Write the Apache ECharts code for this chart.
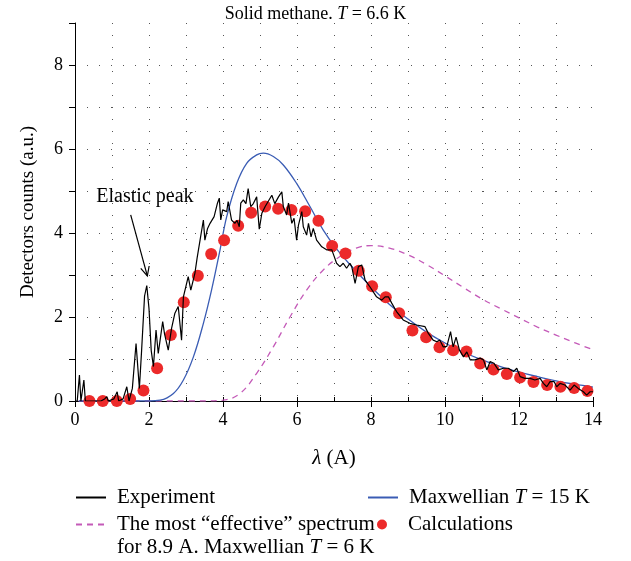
<!DOCTYPE html>
<html><head><meta charset="utf-8">
<script src="https://cdn.jsdelivr.net/npm/echarts@6/dist/echarts.min.js"></script>
<style>html,body{margin:0;padding:0;background:#fff}#c{width:631px;height:561px}</style>
</head><body><div id="c"></div>
<script>
const FONT = '"Liberation Serif", "Times New Roman", serif';
const titleText = 'Solid methane. {i|T} = 6.6 K';
const xName = '{i|λ} (A)';
const yName = 'Detectors counts (a.u.)';
const seriesNames = ['Experiment', 'The most “effective” spectrum', 'Maxwellian T = 15 K', 'Calculations'];
const legendSecondLine = 'for 8.9 A. Maxwellian {i|T} = 6 K';
const annotationText = 'Elastic peak';
const annotationTextAt = [1.89, 4.86];
const annotationArrow = [[1.505, 4.43], [1.955, 2.98]];

const experiment = [[0,0],[0.06,0],[0.12,0.62],[0.16,0],[0.24,0.5],[0.28,0],[0.5,0],[0.7,0],[0.8,0.05],[0.86,0.1],[0.9,0],[1.05,0.05],[1.14,0.22],[1.18,0],[1.3,0.05],[1.40,0.34],[1.46,0],[1.55,0.3],[1.65,1.37],[1.74,0.3],[1.8,1.2],[1.88,2.5],[1.94,2.75],[2.0,2.2],[2.06,1.2],[2.12,0.82],[2.19,1.69],[2.25,1.13],[2.37,1.89],[2.42,1.6],[2.52,1.21],[2.61,1.73],[2.70,2.09],[2.79,2.25],[2.88,1.45],[2.93,2.48],[3.06,2.96],[3.13,2.64],[3.24,3.04],[3.3,3.4],[3.38,3.83],[3.47,4.31],[3.51,3.83],[3.58,4.1],[3.65,4.23],[3.76,4.39],[3.85,4.71],[3.9,4.83],[3.94,4.31],[3.99,4.55],[4.1,4.51],[4.14,4.75],[4.23,4.31],[4.32,4.23],[4.38,4.3],[4.44,4.15],[4.48,4.71],[4.55,4.79],[4.62,4.7],[4.68,5.06],[4.75,4.63],[4.82,4.7],[4.91,4.86],[4.98,4.09],[5.05,4.47],[5.14,4.63],[5.22,4.75],[5.32,4.9],[5.4,4.7],[5.5,4.86],[5.59,4.98],[5.63,4.63],[5.72,4.43],[5.77,4.71],[5.86,4.23],[5.92,4.35],[5.99,3.83],[6.04,4.19],[6.13,4.51],[6.17,4.15],[6.26,3.95],[6.31,4.23],[6.38,3.91],[6.44,4.11],[6.53,3.83],[6.67,3.67],[6.80,3.6],[6.94,3.6],[6.99,3.48],[7.07,3.28],[7.16,3.2],[7.25,3.28],[7.34,3.16],[7.43,3.28],[7.48,3.2],[7.57,2.8],[7.66,3.2],[7.75,3.24],[7.84,2.88],[7.97,2.72],[8.15,2.48],[8.29,2.4],[8.38,2.48],[8.47,2.48],[8.56,2.33],[8.69,2.13],[8.87,1.93],[9.05,1.85],[9.23,1.81],[9.46,1.77],[9.55,1.61],[9.68,1.45],[9.78,1.41],[9.86,1.45],[9.95,1.29],[10.05,1.3],[10.15,1.65],[10.22,1.29],[10.3,1.52],[10.39,1.21],[10.5,1.05],[10.59,1.17],[10.68,0.98],[10.81,0.98],[10.95,1.02],[11.04,0.98],[11.13,0.74],[11.22,0.94],[11.32,0.9],[11.44,0.74],[11.58,0.78],[11.71,0.78],[11.85,0.70],[11.94,0.78],[12.03,0.58],[12.16,0.54],[12.3,0.54],[12.43,0.5],[12.57,0.54],[12.66,0.42],[12.75,0.34],[12.84,0.46],[12.95,0.46],[13.02,0.34],[13.11,0.42],[13.24,0.38],[13.38,0.26],[13.49,0.38],[13.6,0.3],[13.74,0.22],[13.83,0.14],[13.92,0.22],[14.0,0.22]];

const maxwell15 = [[0.1,0],[2.0,0],[2.3,0.02],[2.66,0.18],[2.93,0.5],[3.2,1.05],[3.47,1.85],[3.69,2.64],[3.92,3.6],[4.1,4.39],[4.37,5.18],[4.64,5.66],[4.91,5.86],[5.09,5.9],[5.36,5.82],[5.63,5.62],[5.99,5.18],[6.35,4.63],[6.71,4.07],[7.07,3.62],[7.43,3.25],[8.0,2.72],[8.5,2.3],[9,1.95],[9.5,1.64],[10,1.38],[10.5,1.16],[11,0.98],[11.5,0.82],[12,0.69],[12.5,0.58],[13,0.48],[13.5,0.40],[14,0.33]];

const effective6 = [[0.1,0],[3.5,0],[4.0,0.02],[4.46,0.18],[4.91,0.66],[5.36,1.29],[5.81,2.0],[6.26,2.64],[6.71,3.12],[7.16,3.44],[7.6,3.64],[8.0,3.70],[8.5,3.64],[9,3.48],[9.5,3.25],[10,2.98],[10.5,2.70],[11,2.43],[11.5,2.2],[12,1.98],[12.5,1.76],[13,1.57],[13.5,1.39],[14,1.22]];

const calcX = [0.39,0.75,1.13,1.49,1.85,2.22,2.59,2.94,3.32,3.68,4.03,4.41,4.76,5.14,5.49,5.85,6.22,6.58,6.95,7.31,7.67,8.03,8.40,8.76,9.12,9.49,9.85,10.22,10.58,10.95,11.31,11.67,12.03,12.39,12.76,13.12,13.49,13.85];
const calcY = [0,0,0,0.05,0.25,0.78,1.57,2.35,2.98,3.50,3.83,4.17,4.48,4.63,4.58,4.55,4.52,4.29,3.69,3.51,3.10,2.73,2.47,2.09,1.68,1.52,1.28,1.21,1.18,0.89,0.75,0.64,0.56,0.45,0.38,0.34,0.31,0.24];

const chart = echarts.init(document.getElementById('c'), null, {renderer: 'canvas'});
const rich = (sz) => ({i: {fontStyle: 'italic', fontFamily: FONT, fontSize: sz, color: '#000'}});
const dotted = {type: [1, 11], color: '#555', width: 1};
const LFS = 21;
const legendText = (pad) => ({fontFamily: FONT, fontSize: LFS, color: '#000', padding: [0, 0, 0, pad], rich: rich(LFS)});
const legendFmt = (n) => n.replace(' T ', ' {i|T} ');
const lineLegend = (name, left, top) => ({data: [name], left, top, padding: 0, itemWidth: 30, itemHeight: 14,
  selectedMode: false, textStyle: legendText(6), formatter: legendFmt, itemStyle: {opacity: 0}});

chart.setOption({
  animation: false,
  title: {text: titleText, left: 'center', top: 0,
    textStyle: {fontFamily: FONT, fontSize: 18, fontWeight: 'normal', color: '#000', rich: rich(18)}},
  grid: {left: 75, right: 38, top: 23, bottom: 160, containLabel: false},
  legend: [
    lineLegend(seriesNames[0], 75, 487),
    lineLegend(seriesNames[2], 367, 487),
    lineLegend(seriesNames[1], 75, 514),
    {data: [seriesNames[3]], left: 377, top: 514, padding: 0, itemWidth: 10, itemHeight: 10, selectedMode: false,
      textStyle: legendText(16), formatter: legendFmt}
  ],
  xAxis: [
    {type: 'value', min: 0, max: 14, interval: 2, position: 'bottom',
      name: xName, nameLocation: 'middle', nameGap: 47,
      nameTextStyle: {fontFamily: FONT, fontSize: 21, color: '#000', rich: rich(21)},
      axisLine: {lineStyle: {color: '#000', width: 1}},
      axisTick: {length: 6, lineStyle: {color: '#000'}},
      axisLabel: {fontFamily: FONT, fontSize: 18, color: '#000', margin: 10},
      splitLine: {show: false}},
    {type: 'value', min: 0, max: 14, interval: 1, position: 'bottom',
      axisLine: {show: false},
      axisTick: {inside: true, length: 4, lineStyle: {color: '#000'}},
      axisLabel: {show: false},
      splitLine: {show: true, showMinLine: false, showMaxLine: false, lineStyle: dotted}}
  ],
  yAxis: {type: 'value', min: 0, max: 9, interval: 1,
    name: yName, nameLocation: 'middle', nameGap: 37,
    nameTextStyle: {fontFamily: FONT, fontSize: 19, color: '#000'},
    axisLine: {show: true, lineStyle: {color: '#000', width: 1}},
    axisTick: {show: true, length: 6, lineStyle: {color: '#000'}},
    axisLabel: {fontFamily: FONT, fontSize: 18, color: '#000', margin: 12,
      formatter: (v) => (v % 2 === 0 ? String(v) : '')},
    splitLine: {show: true, showMinLine: false, showMaxLine: false, lineStyle: dotted}},
  series: [
    {name: seriesNames[1], type: 'line', data: effective6, smooth: 0.4, symbol: 'none', z: 2,
      lineStyle: {color: '#c45ab8', width: 1.3, type: [6, 5]}, itemStyle: {color: '#c45ab8'}},
    {name: seriesNames[2], type: 'line', data: maxwell15, smooth: 0.4, symbol: 'none', z: 3,
      lineStyle: {color: '#3a5cb4', width: 1.3}, itemStyle: {color: '#3a5cb4'}},
    {name: seriesNames[3], type: 'scatter', data: calcX.map((x, i) => [x, calcY[i]]), symbol: 'circle', symbolSize: 12, z: 4,
      itemStyle: {color: '#ec2a2a', opacity: 1}},
    {name: seriesNames[0], type: 'line', data: experiment, symbol: 'none', z: 5,
      lineStyle: {color: '#000', width: 1.2}, itemStyle: {color: '#000'}}
  ]
});

// annotation placed through the chart's own scales
const p0 = chart.convertToPixel({gridIndex: 0}, annotationArrow[0]);
const p1 = chart.convertToPixel({gridIndex: 0}, annotationArrow[1]);
const pt = chart.convertToPixel({gridIndex: 0}, annotationTextAt);
const ang = Math.atan2(p1[1] - p0[1], p1[0] - p0[0]);
const hl = 10, ha = 0.45;
const a1 = [p1[0] - hl * Math.cos(ang - ha), p1[1] - hl * Math.sin(ang - ha)];
const a2 = [p1[0] - hl * Math.cos(ang + ha), p1[1] - hl * Math.sin(ang + ha)];
chart.setOption({
  graphic: [
    {type: 'line', shape: {x1: p0[0], y1: p0[1], x2: p1[0], y2: p1[1]}, style: {stroke: '#000', lineWidth: 1.2}, z: 10},
    {type: 'polyline', shape: {points: [a1, p1, a2]}, style: {stroke: '#000', lineWidth: 1.2, fill: null}, z: 10},
    {type: 'text', x: pt[0], y: pt[1], z: 10,
      style: {text: annotationText, font: '20px ' + FONT, fill: '#000', align: 'center', verticalAlign: 'middle'}},
    {type: 'text', x: 117, y: 547, z: 10,
      style: {text: legendSecondLine, fontFamily: FONT, fontSize: LFS, fill: '#000', verticalAlign: 'middle', rich: rich(LFS)}}
  ]
});
</script></body></html>
